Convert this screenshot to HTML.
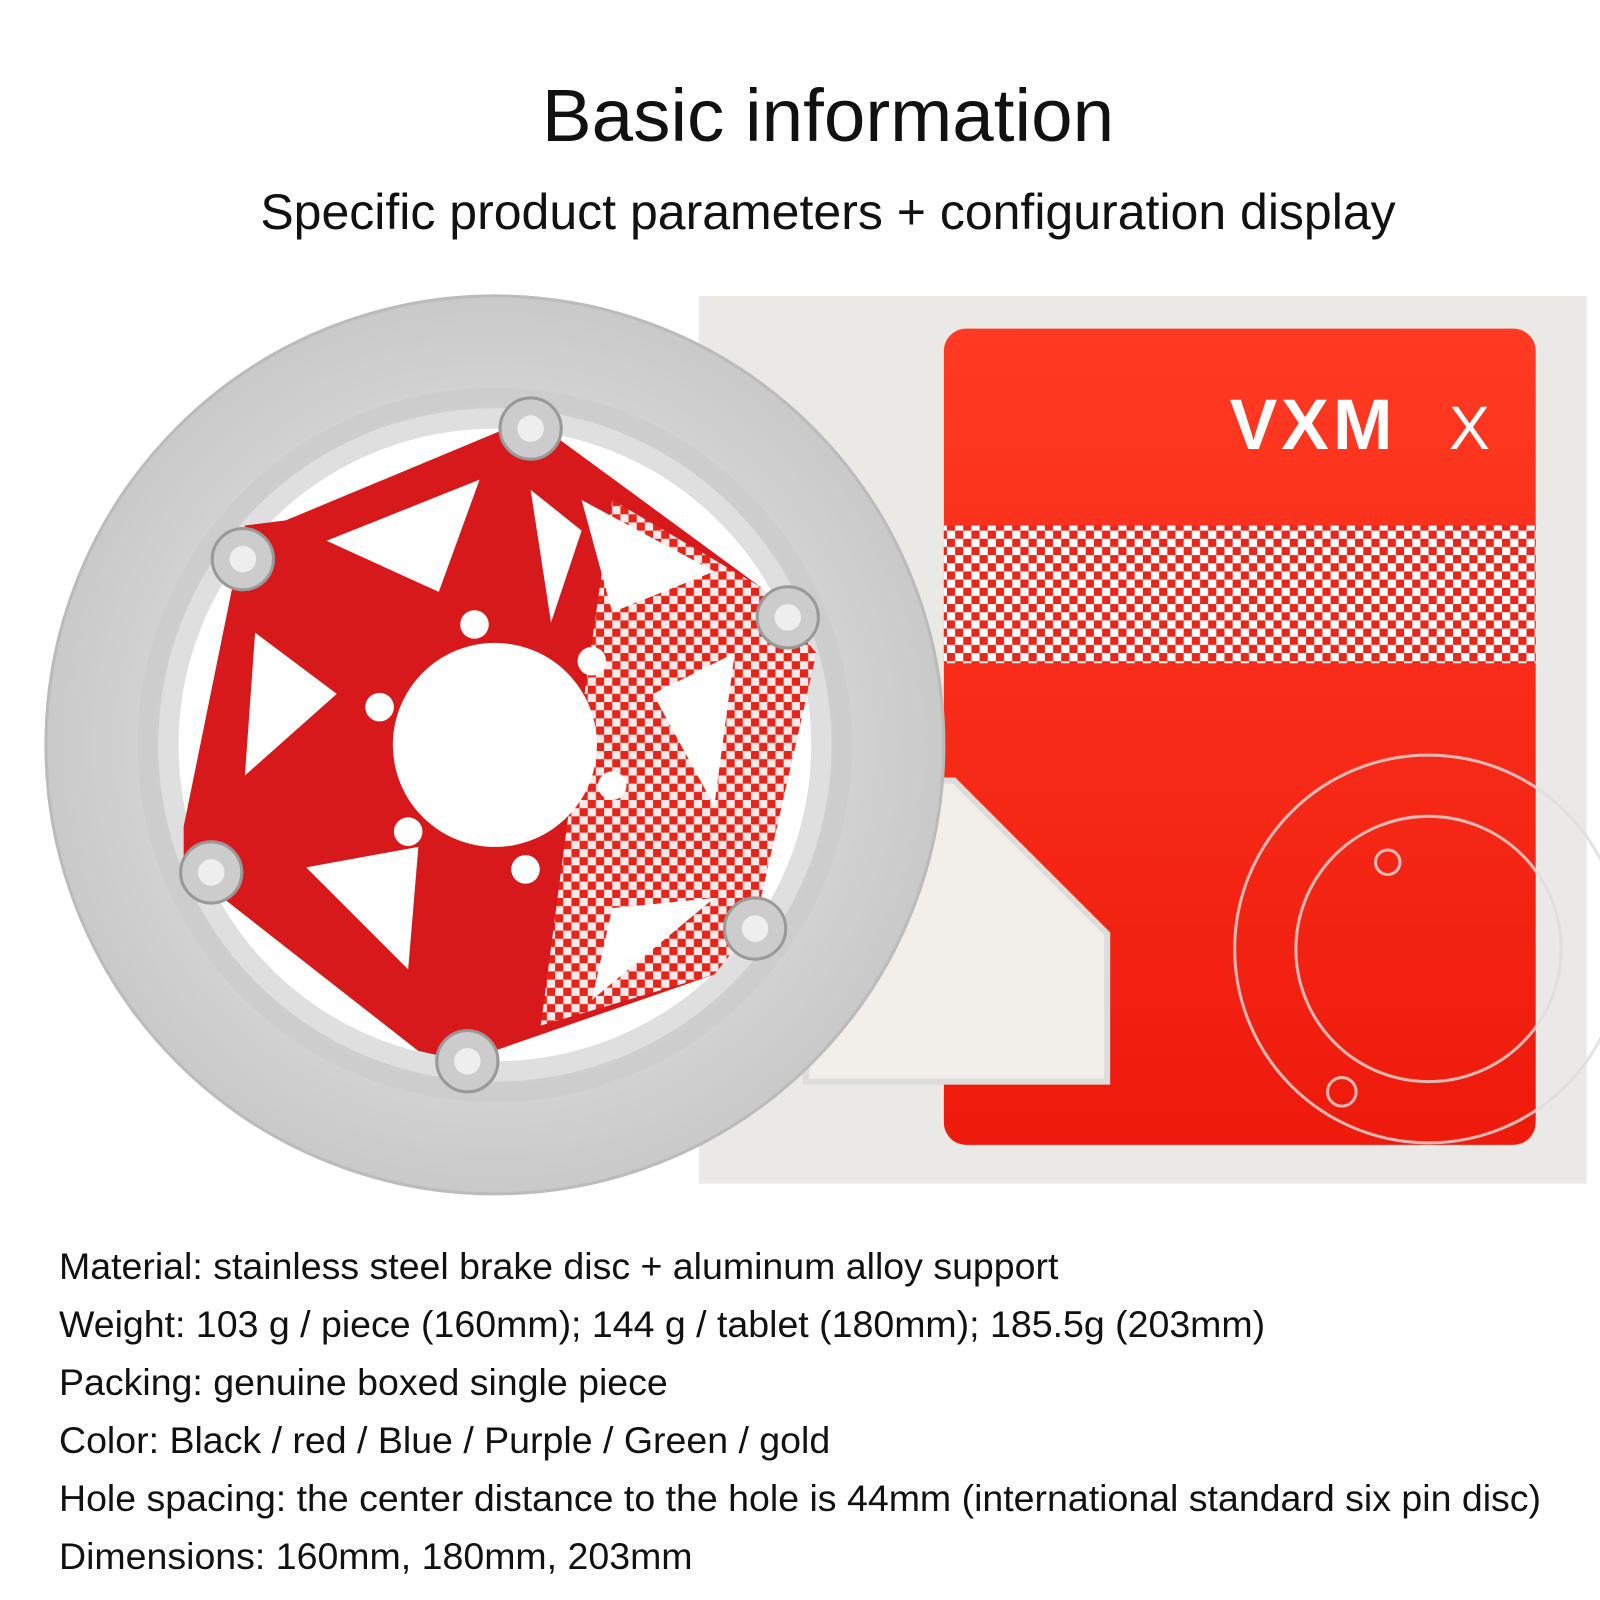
<!DOCTYPE html>
<html><head><meta charset="utf-8"><style>
body{margin:0;background:#fff;width:1600px;height:1600px;overflow:hidden;font-family:"Liberation Sans",sans-serif;position:relative}
.t{position:absolute;left:0;width:1656px;text-align:center;color:#111}
.l{position:absolute;left:59px;font-size:37.5px;color:#111;white-space:nowrap}
</style></head><body>
<svg style="position:absolute;left:0;top:0" width="1600" height="1600">
<defs>
<pattern id="ck" width="16" height="16" patternUnits="userSpaceOnUse">
<rect width="16" height="16" fill="#fff"/><rect width="8" height="8" fill="#e8261a"/><rect x="8" y="8" width="8" height="8" fill="#e8261a"/></pattern>
<radialGradient id="sv" cx="50%" cy="50%" r="50%"><stop offset="0" stop-color="#f4f4f4"/><stop offset="1" stop-color="#c9c9c9"/></radialGradient>
<linearGradient id="rd" x1="0" y1="0" x2="0" y2="1"><stop offset="0" stop-color="#ff3a22"/><stop offset="1" stop-color="#ee1a0c"/></linearGradient>
</defs>
<g transform="scale(1.0204)">
<rect x="685" y="290" width="870" height="870" fill="#ebe9e6"/>
<rect x="925" y="322" width="580" height="800" rx="22" fill="url(#rd)"/>
<rect x="925" y="515" width="580" height="135" fill="url(#ck)"/>
<polygon points="790,765 935,765 1085,915 1085,1060 790,1060" fill="#f2eeea" stroke="#ddd" stroke-width="6"/>
<text x="1205" y="440" font-size="70" font-weight="bold" fill="#fff" font-family="Liberation Sans" letter-spacing="4">VXM</text>
<text x="1420" y="440" font-size="60" fill="#fff" font-family="Liberation Sans">X</text>
<g fill="none" stroke="#ddd" stroke-width="3" opacity="0.8">
<circle cx="1400" cy="930" r="190"/><circle cx="1400" cy="930" r="130"/><circle cx="1360" cy="845" r="12"/><circle cx="1315" cy="1070" r="14"/></g>
<circle cx="485" cy="730" r="440" fill="url(#sv)" stroke="#bbb" stroke-width="3"/>
<circle cx="485" cy="730" r="330" fill="#fff"/>
<circle cx="485" cy="730" r="330" fill="none" stroke="#c9c9c9" stroke-width="40" opacity="0.6"/>
<polygon points="520,410 745,575 800,640 740,905 700,955 455,1040 410,1030 180,850 180,810 240,515 280,510" fill="#d8191b"/>
<polygon points="600,490 745,575 800,640 740,905 700,955 530,1005 570,700" fill="url(#ck)" opacity="0.9"/>
<g fill="#fff">
<polygon points="320,530 470,470 430,580"/><polygon points="520,480 570,520 540,610"/><polygon points="570,490 700,560 600,600"/>
<polygon points="250,620 330,680 240,760"/><polygon points="300,850 410,830 400,950"/><polygon points="600,890 700,880 580,980"/>
<polygon points="640,680 720,640 700,790"/>
<circle cx="485" cy="730" r="100"/><circle cx="465" cy="612" r="14"/><circle cx="580" cy="648" r="14"/><circle cx="600" cy="770" r="14"/>
<circle cx="515" cy="852" r="14"/><circle cx="400" cy="815" r="14"/><circle cx="372" cy="693" r="14"/>
</g>
<g fill="#ccc" stroke="#999" stroke-width="3">
<circle cx="520" cy="420" r="30"/><circle cx="238" cy="548" r="30"/><circle cx="772" cy="605" r="30"/>
<circle cx="207" cy="855" r="30"/><circle cx="740" cy="910" r="30"/><circle cx="458" cy="1040" r="30"/></g>
<g fill="#eee"><circle cx="520" cy="420" r="13"/><circle cx="238" cy="548" r="13"/><circle cx="772" cy="605" r="13"/>
<circle cx="207" cy="855" r="13"/><circle cx="740" cy="910" r="13"/><circle cx="458" cy="1040" r="13"/></g>
</g>
</svg>
<div class="t" style="top:72px;font-size:74.6px">Basic information</div>
<div class="t" style="top:183px;font-size:50px">Specific product parameters + configuration display</div>
<div class="l" style="top:1245px">Material: stainless steel brake disc + aluminum alloy support</div>
<div class="l" style="top:1303px">Weight: 103 g / piece (160mm); 144 g / tablet (180mm); 185.5g (203mm)</div>
<div class="l" style="top:1361px">Packing: genuine boxed single piece</div>
<div class="l" style="top:1419px">Color: Black / red / Blue / Purple / Green / gold</div>
<div class="l" style="top:1477px">Hole spacing: the center distance to the hole is 44mm (international standard six pin disc)</div>
<div class="l" style="top:1535px">Dimensions: 160mm, 180mm, 203mm</div>
</body></html>
